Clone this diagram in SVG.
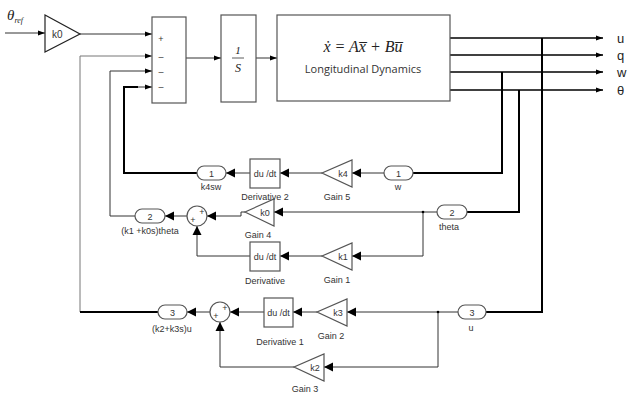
<svg xmlns="http://www.w3.org/2000/svg" width="627" height="394" viewBox="0 0 627 394">
<style>
.b{fill:#fff;stroke:#555;stroke-width:1.2}
.ln{fill:none;stroke:#333;stroke-width:1}
.g{fill:none;stroke:#777;stroke-width:1}
.tk{fill:none;stroke:#000;stroke-width:2}
.o{fill:none;stroke:#000;stroke-width:1.4}
.s{font-family:"Liberation Sans",Arial,sans-serif;font-size:9px;fill:#333;text-anchor:middle}
.lab{font-family:"Liberation Sans",Arial,sans-serif;font-size:13px;fill:#222}
.sg{font-family:"Liberation Sans",Arial,sans-serif;font-size:9px;fill:#333;text-anchor:middle}
.m{font-family:"Liberation Serif","Times New Roman",serif;font-style:italic;fill:#222}
</style>
<defs>
<marker id="a" markerUnits="userSpaceOnUse" markerWidth="8" markerHeight="6" refX="7" refY="3" orient="auto"><path d="M0,0.5 L7,3 L0,5.5 z" fill="#000"/></marker>
<marker id="A" markerUnits="userSpaceOnUse" markerWidth="10" markerHeight="10" refX="9" refY="5" orient="auto"><path d="M0,0.5 L9,5 L0,9.5 z" fill="#000"/></marker>
</defs>

<g id="connectors">
<path class="ln" d="M5,33 H45" marker-end="url(#a)"/>
<path class="ln" d="M80,34 H152" marker-end="url(#a)"/>
<path class="g" d="M80,312 V56 H152" marker-end="url(#a)"/>
<path class="tk" d="M80,312 H158"/>
<path class="ln" d="M135,216 H110 V71 H152" marker-end="url(#a)"/>
<path class="tk" d="M197,173 H124 V87 H138"/>
<path class="ln" d="M138,87 H152" marker-end="url(#a)"/>
<path class="ln" d="M186,58 H221" marker-end="url(#a)"/>
<path class="ln" d="M256,58 H277" marker-end="url(#a)"/>
<path class="o" d="M450,38 H603" marker-end="url(#a)"/>
<path class="o" d="M450,55 H603" marker-end="url(#a)"/>
<path class="o" d="M450,72 H603" marker-end="url(#a)"/>
<path class="o" d="M450,90 H603" marker-end="url(#a)"/>
<path class="tk" d="M413,173 H502 V72"/>
<path class="tk" d="M467,212 H519 V90"/>
<path class="tk" d="M486,312 H542 V38"/>
<path class="ln" d="M384,173 H352" marker-end="url(#A)"/>
<path class="ln" d="M322,173 H280" marker-end="url(#A)"/>
<path class="ln" d="M250,173 H226" marker-end="url(#A)"/>
<path class="ln" d="M437,212 H274" marker-end="url(#A)"/>
<path class="ln" d="M245,212 H241 V216 H207" marker-end="url(#A)"/>
<path class="ln" d="M423,212 V256 H352" marker-end="url(#A)"/>
<circle cx="423" cy="212" r="1.3" fill="#000"/>
<path class="ln" d="M322,256 H280" marker-end="url(#A)"/>
<path class="ln" d="M250,256 H197 V226" marker-end="url(#A)"/>
<path class="ln" d="M187,216 H165" marker-end="url(#A)"/>
<path class="ln" d="M458,312 H347" marker-end="url(#A)"/>
<path class="ln" d="M317,312 H293" marker-end="url(#A)"/>
<path class="ln" d="M264,312 H230" marker-end="url(#A)"/>
<path class="ln" d="M210,312 H187" marker-end="url(#A)"/>
<path class="ln" d="M438,312 V367 H324" marker-end="url(#A)"/>
<circle cx="438" cy="312" r="1.3" fill="#000"/>
<path class="ln" d="M294,367 H220 V322" marker-end="url(#A)"/>
</g>

<g id="theta_ref"><text x="7" y="20" class="m" font-size="15">θ<tspan font-size="8" dy="3">ref</tspan></text></g>

<g id="gain_k0"><polygon class="b" points="45,15 45,52 80,34" style="stroke:#222"/><text x="52" y="38" font-family="Liberation Sans,Arial,sans-serif" font-size="10" fill="#333">k0</text></g>

<g id="sum_main"><rect class="b" x="152" y="17" width="34" height="86"/>
<text x="161" y="42" class="sg">+</text><text x="161" y="60" class="sg">–</text><text x="161" y="75" class="sg">–</text><text x="161" y="90" class="sg">–</text></g>

<g id="integrator"><rect class="b" x="221" y="15" width="35" height="87"/>
<text x="238" y="54" class="m" font-size="11" text-anchor="middle" font-style="normal">1</text>
<line x1="232" y1="58" x2="244" y2="58" stroke="#333" stroke-width="0.8"/>
<text x="238" y="72" class="m" font-size="12" text-anchor="middle">S</text></g>

<g id="dynamics"><rect class="b" x="277" y="15" width="173" height="86"/>
<text x="363" y="52" class="m" font-size="16" text-anchor="middle">ẋ = Ax̅ + Bu̅</text>
<text x="363" y="73" font-family="Open Sans,Noto Sans,sans-serif" font-size="11" fill="#333" text-anchor="middle">Longitudinal Dynamics</text></g>

<g id="out_labels">
<text x="617" y="43" class="lab">u</text>
<text x="617" y="60" class="lab">q</text>
<text x="617" y="77" class="lab">w</text>
<text x="617" y="95" class="lab">θ</text>
</g>

<g id="outport1"><rect class="b" x="197" y="166" width="29" height="14" rx="7"/><text x="211.5" y="176.5" class="s">1</text><text x="211" y="190" class="s">k4sw</text></g>
<g id="derivative2"><rect class="b" x="250" y="159" width="30" height="29"/><text x="265" y="177" class="s">du /dt</text><text x="265" y="200" class="s">Derivative  2</text></g>
<g id="gain5"><polygon class="b" points="352,160 352,187 322,173"/><text x="343" y="177" class="s">k4</text><text x="337" y="200" class="s">Gain 5</text></g>
<g id="inport1"><rect class="b" x="384" y="166" width="29" height="14" rx="7"/><text x="398.5" y="176.5" class="s">1</text><text x="398" y="190" class="s">w</text></g>

<g id="outport2"><rect class="b" x="135" y="209" width="30" height="14" rx="7"/><text x="150" y="219.5" class="s">2</text><text x="150" y="234" class="s">(k1 +k0s)theta</text></g>
<g id="sum2"><circle class="b" cx="197" cy="216" r="10"/><text x="202" y="215" class="sg" font-size="8">+</text><text x="193" y="223" class="sg" font-size="8">+</text></g>
<g id="gain4"><polygon class="b" points="274,199 274,226 245,212"/><text x="265" y="216" class="s">k0</text><text x="258" y="238" class="s">Gain 4</text></g>
<g id="inport2"><rect class="b" x="437" y="205" width="30" height="14" rx="7"/><text x="452" y="215.5" class="s">2</text><text x="449" y="230" class="s">theta</text></g>
<g id="derivative"><rect class="b" x="250" y="242" width="30" height="29"/><text x="265" y="260" class="s">du /dt</text><text x="265" y="284" class="s">Derivative</text></g>
<g id="gain1"><polygon class="b" points="352,243 352,270 322,256"/><text x="343" y="260" class="s">k1</text><text x="337" y="283" class="s">Gain 1</text></g>

<g id="outport3"><rect class="b" x="158" y="305" width="29" height="14" rx="7"/><text x="172.5" y="315.5" class="s">3</text><text x="172" y="332" class="s">(k2+k3s)u</text></g>
<g id="sum3"><circle class="b" cx="220" cy="312" r="10"/><text x="225" y="311" class="sg" font-size="8">+</text><text x="216" y="319" class="sg" font-size="8">+</text></g>
<g id="derivative1"><rect class="b" x="264" y="298" width="29" height="29"/><text x="278.5" y="316" class="s">du /dt</text><text x="280" y="345" class="s">Derivative  1</text></g>
<g id="gain2"><polygon class="b" points="347,299 347,326 317,312"/><text x="338" y="316" class="s">k3</text><text x="331" y="339" class="s">Gain 2</text></g>
<g id="inport3"><rect class="b" x="458" y="305" width="28" height="14" rx="7"/><text x="472" y="315.5" class="s">3</text><text x="471" y="331" class="s">u</text></g>
<g id="gain3"><polygon class="b" points="324,354 324,381 294,367"/><text x="315" y="371" class="s">k2</text><text x="305" y="392" class="s">Gain 3</text></g>
</svg>
